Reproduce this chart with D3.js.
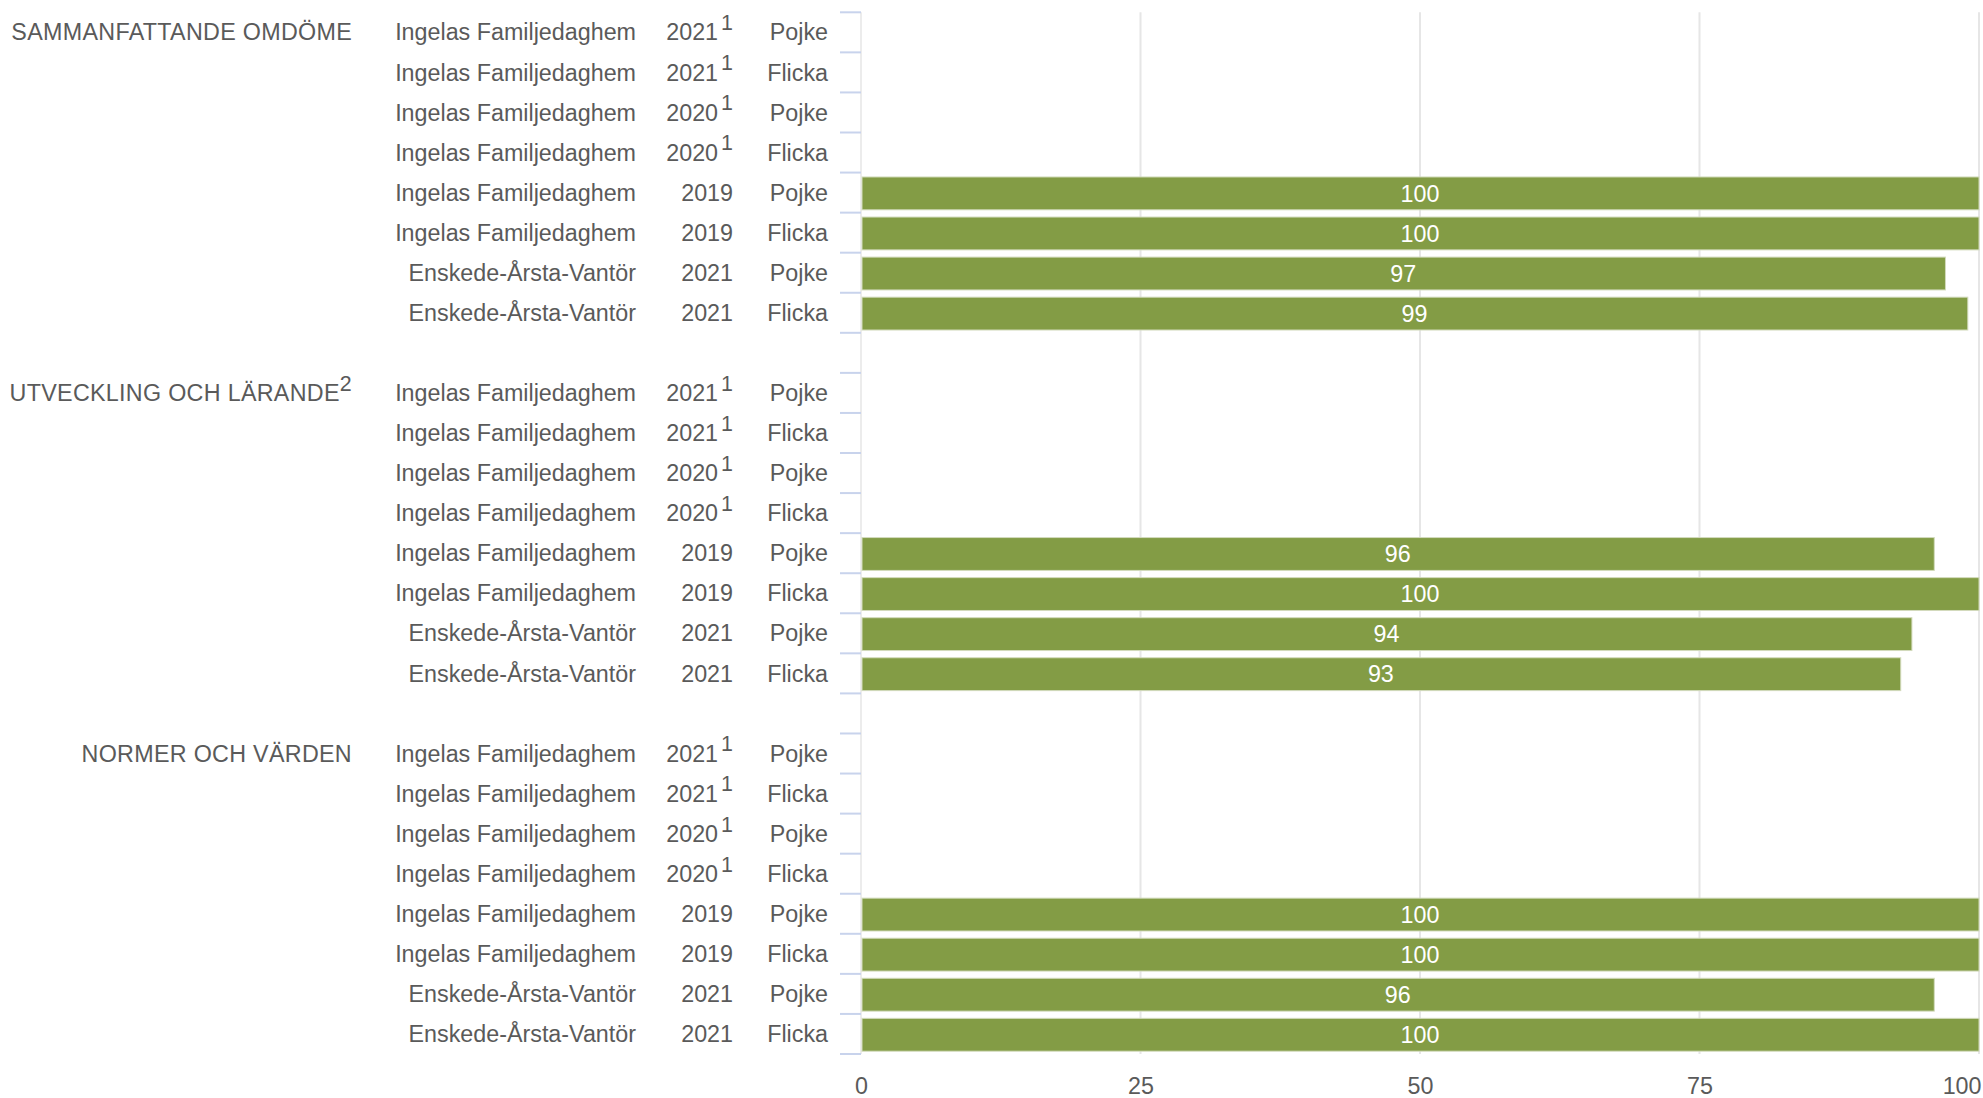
<!DOCTYPE html>
<html>
<head>
<meta charset="utf-8">
<script src="https://cdn.jsdelivr.net/npm/d3@7"></script>
<style>
  body { margin: 0; background: #fff; }
  text { font-family: "Liberation Sans", Arial, sans-serif; }
</style>
</head>
<body>
<div id="chart"></div>
<script>
// Chart data
const sections = ["SAMMANFATTANDE OMDÖME", "UTVECKLING OCH LÄRANDE", "NORMER OCH VÄRDEN"];
const sectionNotes = ["", "2", ""];
const units = [
	"Ingelas Familjedaghem", "Ingelas Familjedaghem", "Ingelas Familjedaghem", "Ingelas Familjedaghem",
	"Ingelas Familjedaghem", "Ingelas Familjedaghem", "Enskede-Årsta-Vantör", "Enskede-Årsta-Vantör"
];
const years = ["2021", "2021", "2020", "2020", "2019", "2019", "2021", "2021"];
const yearNotes = ["1", "1", "1", "1", "", "", "", ""];
const genders = ["Pojke", "Flicka", "Pojke", "Flicka", "Pojke", "Flicka", "Pojke", "Flicka"];
const valuesSammanfattande = [null, null, null, null, 100, 100, 97, 99];
const valuesUtveckling = [null, null, null, null, 96, 100, 94, 93];
const valuesNormer = [null, null, null, null, 100, 100, 96, 100];
const xTicks = [0, 25, 50, 75, 100];

const sectionValues = [valuesSammanfattande, valuesUtveckling, valuesNormer];

// Dimensions
const WIDTH = 1983;
const HEIGHT = 1098;
const TEXT_COLOR = "#5a5a5a";
const BAR_COLOR = "#839c45";
const FONT_SIZE = 23.3;

// Build rows: each section's rows plus a blank row between sections
const rows = [];
sections.forEach((s, si) => {
	units.forEach((u, i) => {
		rows.push({
			key: `${si}-${i}`,
			section: si,
			index: i,
			unit: u,
			year: years[i],
			yearNote: yearNotes[i],
			gender: genders[i],
			value: sectionValues[si][i]
		});
	});
	if (si < sections.length - 1) rows.push({ key: `gap-${si}`, blank: true });
});

const svg = d3
	.select("#chart")
	.append("svg")
	.attr("width", WIDTH)
	.attr("height", HEIGHT);

const x = d3.scaleLinear().domain([0, 100]).range([861, 1979]);
const y = d3
	.scaleBand()
	.domain(rows.map((d) => d.key))
	.range([12.3, 1054])
	.padding(0);
const bw = y.bandwidth();
const dataRows = rows.filter((d) => !d.blank);

// Gridlines
svg.append("g")
	.selectAll("line")
	.data(xTicks.filter((t) => t > 0))
	.enter()
	.append("line")
	.attr("x1", (d) => x(d))
	.attr("x2", (d) => x(d))
	.attr("y1", y.range()[0])
	.attr("y2", y.range()[1])
	.attr("stroke", "#e6e6e6")
	.attr("stroke-width", 2);

// Y axis line
svg.append("line")
	.attr("x1", x(0))
	.attr("x2", x(0))
	.attr("y1", y.range()[0])
	.attr("y2", y.range()[1])
	.attr("stroke", "#ececec")
	.attr("stroke-width", 2);

// Y axis ticks at band edges of each data row
const edges = [];
dataRows.forEach((d) => {
	edges.push(y(d.key));
	edges.push(y(d.key) + bw);
});
const uniqueEdges = Array.from(new Set(edges.map((e) => e.toFixed(2)))).map(Number);

svg.append("g")
	.selectAll("line")
	.data(uniqueEdges)
	.enter()
	.append("line")
	.attr("x1", x(0) - 21)
	.attr("x2", x(0))
	.attr("y1", (d) => d)
	.attr("y2", (d) => d)
	.attr("stroke", "#c8d3ec")
	.attr("stroke-width", 2);

// Bars
const barRows = dataRows.filter((d) => d.value != null);
svg.append("g")
	.selectAll("rect")
	.data(barRows)
	.enter()
	.append("rect")
	.attr("x", x(0) + 1)
	.attr("y", (d) => y(d.key) + bw * 0.11)
	.attr("width", (d) => x(d.value) - x(0) - 1)
	.attr("height", bw * 0.82)
	.attr("fill", BAR_COLOR)
	.attr("stroke", "#d3dbbd")
	.attr("stroke-width", 1);

// Bar value labels
svg.append("g")
	.selectAll("text")
	.data(barRows)
	.enter()
	.append("text")
	.attr("x", (d) => (x(0) + x(d.value)) / 2)
	.attr("y", (d) => y(d.key) + bw * 0.52)
	.attr("dy", "0.35em")
	.attr("text-anchor", "middle")
	.attr("fill", "#fff")
	.style("font-size", FONT_SIZE + "px")
	.text((d) => d.value);

// Row labels
const labels = svg.append("g").attr("fill", TEXT_COLOR).style("font-size", FONT_SIZE + "px");

labels.selectAll(".unit")
	.data(dataRows)
	.enter()
	.append("text")
	.attr("class", "unit")
	.attr("x", 636)
	.attr("y", (d) => y(d.key) + bw / 2)
	.attr("dy", "0.35em")
	.attr("text-anchor", "end")
	.text((d) => d.unit);

const yearText = labels.selectAll(".year")
	.data(dataRows)
	.enter()
	.append("text")
	.attr("class", "year")
	.attr("x", 733)
	.attr("y", (d) => y(d.key) + bw / 2)
	.attr("dy", "0.35em")
	.attr("text-anchor", "end");
yearText.append("tspan").text((d) => d.year);
yearText.filter((d) => d.yearNote)
	.append("tspan")
	.attr("dx", 3)
	.attr("dy", "-0.48em")
	.style("font-size", "0.92em")
	.text((d) => d.yearNote);

labels.selectAll(".gender")
	.data(dataRows)
	.enter()
	.append("text")
	.attr("class", "gender")
	.attr("x", 828)
	.attr("y", (d) => y(d.key) + bw / 2)
	.attr("dy", "0.35em")
	.attr("text-anchor", "end")
	.text((d) => d.gender);

// Section titles
const titles = labels.selectAll(".section")
	.data(sections)
	.enter()
	.append("text")
	.attr("class", "section")
	.attr("x", 352)
	.attr("y", (d, i) => y(`${i}-0`) + bw / 2)
	.attr("dy", "0.35em")
	.attr("text-anchor", "end")
	.style("letter-spacing", "0.3px");
titles.append("tspan").text((d) => d);
titles.filter((d, i) => sectionNotes[i])
	.append("tspan")
	.attr("dy", "-0.48em")
	.style("font-size", "0.92em")
	.text((d) => sectionNotes[sections.indexOf(d)]);

// X axis labels
const xAxis = d3.axisBottom(x).tickValues(xTicks).tickSize(0).tickPadding(0);
const xg = svg.append("g")
	.attr("transform", `translate(0, ${1077})`)
	.call(xAxis);
xg.select(".domain").remove();
xg.selectAll("text")
	.attr("fill", TEXT_COLOR)
	.attr("dy", "0.71em")
	.style("font-size", FONT_SIZE + "px")
	.style("font-family", "'Liberation Sans', Arial, sans-serif");
// Keep the last label inside the picture
xg.selectAll(".tick")
	.filter((d) => d === 100)
	.select("text")
	.attr("text-anchor", "end")
	.attr("x", 2);
</script>
</body>
</html>
